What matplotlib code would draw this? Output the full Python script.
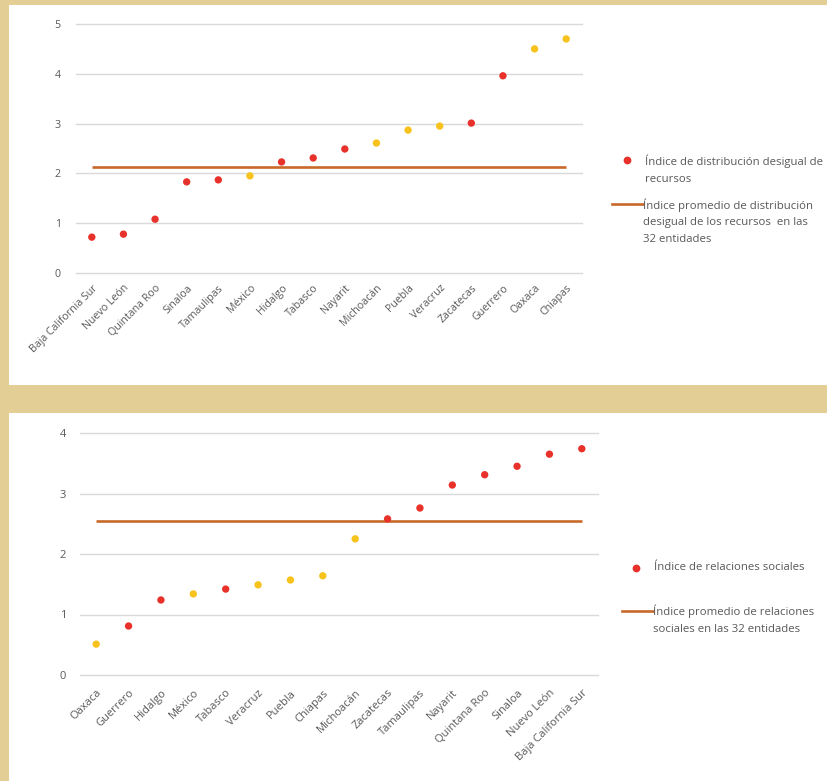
import matplotlib.pyplot as plt
from matplotlib.lines import Line2D
from matplotlib.patches import Rectangle
import numpy as np

plt.rcParams["font.family"] = ["Open Sans", "DejaVu Sans"]

# --- data, top panel ---
states_top = ["Baja California Sur", "Nuevo León", "Quintana Roo", "Sinaloa",
              "Tamaulipas", "México", "Hidalgo", "Tabasco", "Nayarit",
              "Michoacán", "Puebla", "Veracruz", "Zacatecas", "Guerrero",
              "Oaxaca", "Chiapas"]
idx_top = [0.72, 0.78, 1.08, 1.83, 1.87, 1.95, 2.23, 2.31, 2.49, 2.61,
           2.87, 2.95, 3.01, 3.96, 4.50, 4.70]
group_top = ["r", "r", "r", "r", "r", "y", "r", "r", "r", "y",
             "y", "y", "r", "r", "y", "y"]
avg_top = 2.13

# --- data, bottom panel ---
states_bot = ["Oaxaca", "Guerrero", "Hidalgo", "México", "Tabasco", "Veracruz",
              "Puebla", "Chiapas", "Michoacán", "Zacatecas", "Tamaulipas",
              "Nayarit", "Quintana Roo", "Sinaloa", "Nuevo León",
              "Baja California Sur"]
idx_bot = [0.51, 0.81, 1.24, 1.34, 1.42, 1.49, 1.57, 1.64, 2.25, 2.58,
           2.76, 3.14, 3.31, 3.45, 3.65, 3.74]
group_bot = ["y", "r", "r", "y", "r", "y", "y", "y", "y", "r",
             "r", "r", "r", "r", "r", "r"]
avg_bot = 2.55

RED = "#E8312A"
YELLOW = "#F6C21B"
ORANGE = "#C8692A"
GRID = "#D9D9D9"
TXT = "#595959"
TAN = "#E3CE96"

W, H = 827, 781
fig = plt.figure(figsize=(W / 100, H / 100), dpi=100, facecolor="white")


def fx(px):
    return px / W


def fy(py):
    return 1 - py / H


# tan frame pieces
for x0, y0, w, h in [(0, 0, 9, H), (0, 0, W, 5), (0, 385, W, 28)]:
    fig.patches.append(Rectangle((fx(x0), fy(y0 + h)), w / W, h / H,
                                 transform=fig.transFigure, color=TAN, lw=0, zorder=0))


def panel(rect, states, vals, groups, avg, ymax, pad, fs, xpad):
    ax = fig.add_axes(rect)
    ax.set_facecolor("none")
    x = np.arange(len(states))
    cols = [RED if g == "r" else YELLOW for g in groups]
    for yv in range(ymax + 1):
        ax.axhline(yv, color=GRID, lw=1.0, zorder=1, clip_on=False)
    ax.plot([x[0], x[-1]], [avg, avg], color=ORANGE, lw=1.9, zorder=2,
            solid_capstyle="butt")
    ax.scatter(x, vals, s=28, c=cols, lw=0, zorder=3)
    ax.set_xlim(-0.5, len(states) - 0.5)
    ax.set_ylim(0, ymax)
    ax.set_yticks(range(ymax + 1))
    ax.set_xticks(x)
    ax.set_xticklabels(states, rotation=45, ha="right", rotation_mode="anchor",
                       fontsize=fs, color=TXT)
    ax.tick_params(axis="y", length=0, pad=pad, labelsize=fs, labelcolor=TXT)
    ax.tick_params(axis="x", length=0, pad=xpad)
    for s in ax.spines.values():
        s.set_visible(False)
    return ax


panel([fx(76), fy(273), 506 / W, 249 / H], states_top, idx_top, group_top,
      avg_top, 5, 11, 7.7, 7)
panel([fx(80), fy(675), 518 / W, 242 / H], states_bot, idx_bot, group_bot,
      avg_bot, 4, 10, 8.0, 9)


def legend_item(kind, x0, y0, lines):
    if kind == "dot":
        fig.add_artist(Line2D([fx(x0)], [fy(y0)], marker="o", ms=5.6, color=RED,
                              mec="none", transform=fig.transFigure))
        tx = x0 + 18
    else:
        fig.add_artist(Line2D([fx(x0), fx(x0 + 31)], [fy(y0), fy(y0)], color=ORANGE,
                              lw=1.9, transform=fig.transFigure))
        tx = x0 + 31
    fig.text(fx(tx), fy(y0 - 6), lines, ha="left", va="top", fontsize=8.2,
             color=TXT, linespacing=1.75)


legend_item("dot", 627, 160, "Índice de distribución desigual de\nrecursos")
legend_item("line", 612, 204, "Índice promedio de distribución\n"
            "desigual de los recursos  en las\n32 entidades")
legend_item("dot", 636, 568, "Índice de relaciones sociales")
legend_item("line", 622, 611, "Índice promedio de relaciones\n"
            "sociales en las 32 entidades")

fig.savefig("out.png", dpi=100, facecolor="white")
